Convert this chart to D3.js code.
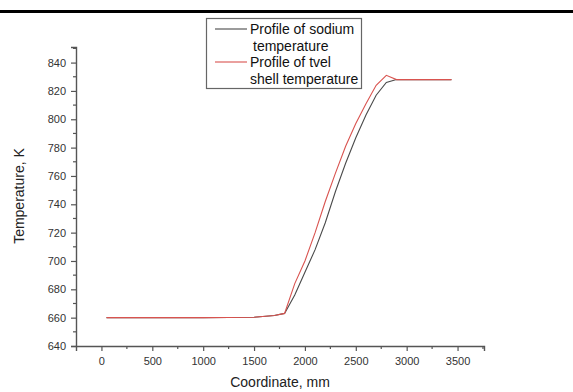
<!DOCTYPE html>
<html>
<head>
<meta charset="utf-8">
<script src="https://cdn.jsdelivr.net/npm/d3@7"></script>
<style>
  html, body { margin: 0; padding: 0; background: #fff; }
  svg { display: block; font-family: "Liberation Sans", Arial, sans-serif; }
</style>
</head>
<body>
<svg id="chart" width="573" height="392"></svg>
<script>
// Axial coordinate along the channel, mm
const coordinate = [50, 500, 1000, 1500, 1700, 1800, 1900, 2000, 2100, 2200, 2300, 2400, 2500, 2600, 2700, 2800, 2900, 3000, 3440];
// Coolant (sodium) temperature, K
const sodiumTemp = [660, 660, 660, 660.3, 661.5, 663, 676, 692, 708, 727, 749, 769, 787, 803, 817, 826, 828, 828, 828];
// Fuel rod (tvel) cladding temperature, K
const shellTemp  = [660, 660, 660, 660.3, 661.5, 663, 684, 700, 720, 742, 762, 781, 797, 811, 824, 831, 828, 828, 828];

const xTicks = [0, 500, 1000, 1500, 2000, 2500, 3000, 3500];
const yTicks = [640, 660, 680, 700, 720, 740, 760, 780, 800, 820, 840];

const seriesNames = [["Profile of sodium", "temperature"], ["Profile of tvel", "shell temperature"]];
const seriesColors = ["#4a4a4a", "#d9534f"];

const svg = d3.select("#chart");
const axisColor = "#555";
const labelColor = "#333";

// Rule across the top of the figure
svg.append("rect").attr("x", 0).attr("y", 10).attr("width", 573).attr("height", 3).attr("fill", "#000");

const x = d3.scaleLinear().domain([-250, 3760]).range([76, 484]);
const y = d3.scaleLinear().domain([640, 851]).range([346, 47]);

// Minor ticks
const xMinor = d3.range(250, 3760, 500);
const yMinor = d3.range(650, 851, 20);

const gx = svg.append("g").attr("transform", `translate(0,${y(640)})`);
gx.call(d3.axisBottom(x).tickValues(xTicks).tickSize(5).tickPadding(6).tickFormat(d3.format("d")));
gx.append("g").selectAll("line").data(xMinor).join("line")
  .attr("x1", d => x(d)).attr("x2", d => x(d)).attr("y1", 0).attr("y2", 3);

const gy = svg.append("g").attr("transform", `translate(${x(-250)},0)`);
gy.call(d3.axisLeft(y).tickValues(yTicks).tickSize(5).tickPadding(5).tickFormat(d3.format("d")));
gy.append("g").selectAll("line").data(yMinor).join("line")
  .attr("y1", d => y(d)).attr("y2", d => y(d)).attr("x1", 0).attr("x2", -3);

[gx, gy].forEach(g => {
  g.selectAll(".domain").attr("stroke", axisColor).attr("stroke-width", 1.4);
  g.selectAll("line").attr("stroke", axisColor).attr("stroke-width", 1.2);
  g.selectAll("text").attr("fill", labelColor).style("font-size", "11px")
    .style("font-family", "'Liberation Sans', Arial, sans-serif");
});

// Axis titles
svg.append("text").attr("x", 280).attr("y", 387).attr("text-anchor", "middle")
  .attr("fill", "#222").style("font-size", "14px").text("Coordinate, mm");
svg.append("text").attr("transform", "translate(24,196) rotate(-90)").attr("text-anchor", "middle")
  .attr("fill", "#222").style("font-size", "14px").text("Temperature, K");

// Temperature profiles
const line = d3.line().x((d, i) => x(coordinate[i])).y(d => y(d));
[sodiumTemp, shellTemp].forEach((vals, k) => {
  svg.append("path").datum(vals).attr("d", line)
    .attr("fill", "none").attr("stroke", seriesColors[k]).attr("stroke-width", 1.1);
});

// Legend
const lg = svg.append("g");
lg.append("rect").attr("x", 206.5).attr("y", 18.5).attr("width", 155).attr("height", 70)
  .attr("fill", "#fff").attr("stroke", "#666").attr("stroke-width", 1.2);
const rowY = [29, 62];
seriesNames.forEach((lines, k) => {
  lg.append("line").attr("x1", 215).attr("x2", 247).attr("y1", rowY[k]).attr("y2", rowY[k])
    .attr("stroke", seriesColors[k]).attr("stroke-width", 1.1);
  lines.forEach((t, j) => {
    lg.append("text").attr("x", k === 0 && j === 1 ? 253 : 250).attr("y", rowY[k] + 5 + j * 17)
      .attr("fill", "#111").style("font-size", "14px").text(t);
  });
});
</script>
</body>
</html>
